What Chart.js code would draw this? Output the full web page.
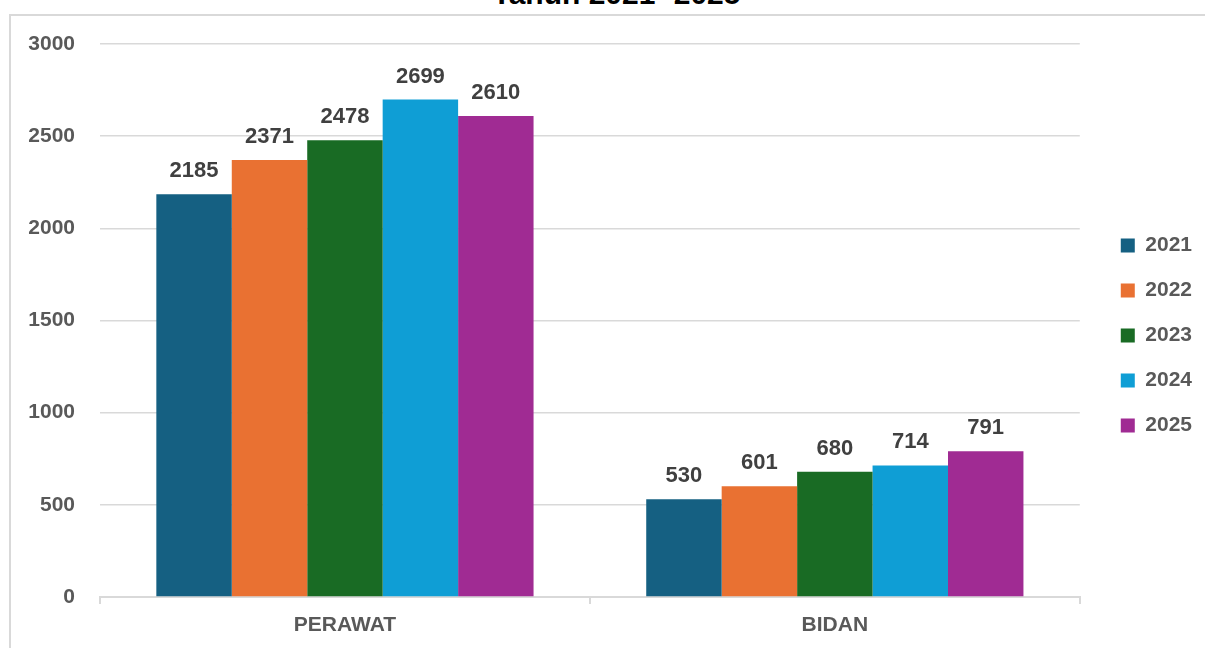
<!DOCTYPE html>
<html>
<head>
<meta charset="utf-8">
<script src="https://cdn.jsdelivr.net/npm/chart.js@4.4.1/dist/chart.umd.min.js"></script>
<style>
  html, body { margin: 0; padding: 0; background: #fff; overflow: hidden; }
  #wrap { position: relative; width: 1205px; height: 648px; }
  #frame { position: absolute; left: 9px; top: 14px; width: 1300px; height: 700px;
           border-left: 2px solid #d9d9d9; border-top: 2px solid #d9d9d9; }
  #title { position: absolute; left: 0; top: -21px; width: 1233px; text-align: center;
           font: bold 30px "Liberation Sans", Arial, sans-serif; line-height: 30px; color: #000; }
  canvas { position: absolute; left: 0; top: 0; }
</style>
</head>
<body>
<div id="wrap">
  <div id="frame"></div>
  <div id="title">Tahun 2021- 2025</div>
  <canvas id="chart" width="1205" height="648"></canvas>
</div>
<script>
let categories = ["PERAWAT", "BIDAN"];
let years = ["2021", "2022", "2023", "2024", "2025"];
let v2021 = [2185, 530];
let v2022 = [2371, 601];
let v2023 = [2478, 680];
let v2024 = [2699, 714];
let v2025 = [2610, 791];
let colors = ["#156082", "#e97132", "#196b24", "#0f9ed5", "#a02b93"];
let yTicks = [0, 500, 1000, 1500, 2000, 2500, 3000];

let font = "'Liberation Sans', Arial, sans-serif";

// values above each bar
const barLabels = {
  id: "barLabels",
  afterDatasetsDraw(chart) {
    let ctx = chart.ctx;
    ctx.save();
    ctx.font = "bold 22px " + font;
    ctx.fillStyle = "#404040";
    ctx.textAlign = "center";
    ctx.textBaseline = "middle";
    chart.data.datasets.forEach((ds, i) => {
      chart.getDatasetMeta(i).data.forEach((bar, j) => {
        ctx.fillText(ds.data[j], bar.x, bar.y - 23);
      });
    });
    ctx.restore();
  }
};

let series = [v2021, v2022, v2023, v2024, v2025];
let ctx = document.getElementById("chart").getContext("2d");
let chart = new Chart(ctx, {
  type: "bar",
  data: {
    labels: categories,
    datasets: series.map((s, i) => ({
      label: years[i],
      data: s,
      backgroundColor: colors[i],
      borderWidth: 0,
      categoryPercentage: 0.77,
      barPercentage: 1
    }))
  },
  options: {
    responsive: false,
    animation: false,
    layout: { padding: { top: 44, bottom: 2, left: 0, right: 3 } },
    plugins: {
      legend: {
        position: "right",
        fullSize: false,
        // empty title only pushes the items down a little
        title: { display: true, text: "", padding: 0, font: { size: 20, lineHeight: "30px" } },
        labels: {
          boxWidth: 14,
          boxHeight: 14,
          padding: 24,
          color: "#595959",
          font: { family: font, size: 21, weight: "bold" }
        }
      },
      tooltip: { enabled: false }
    },
    scales: {
      x: {
        grid: { display: true, drawOnChartArea: false, drawTicks: true, tickLength: 7, color: "#d9d9d9", lineWidth: 2, offset: true },
        border: { color: "#d9d9d9", width: 2 },
        ticks: { color: "#595959", padding: 8.4, font: { family: font, size: 21, weight: "bold" } }
      },
      y: {
        min: 0,
        max: yTicks[yTicks.length - 1],
        afterBuildTicks(scale) { scale.ticks = yTicks.map(v => ({ value: v })); },
        grid: { color: "#d9d9d9", lineWidth: 1.5, drawTicks: false },
        border: { display: false },
        ticks: {
          color: "#595959", padding: 25, font: { family: font, size: 21, weight: "bold" },
          callback: v => String(v)
        },
        afterFit(scale) { scale.width = 100; }
      },
      gap: {
        position: "right",
        grid: { display: false },
        border: { display: false },
        ticks: { display: false },
        afterFit(scale) { scale.width = 17; }
      }
    }
  },
  plugins: [barLabels]
});
</script>
</body>
</html>
